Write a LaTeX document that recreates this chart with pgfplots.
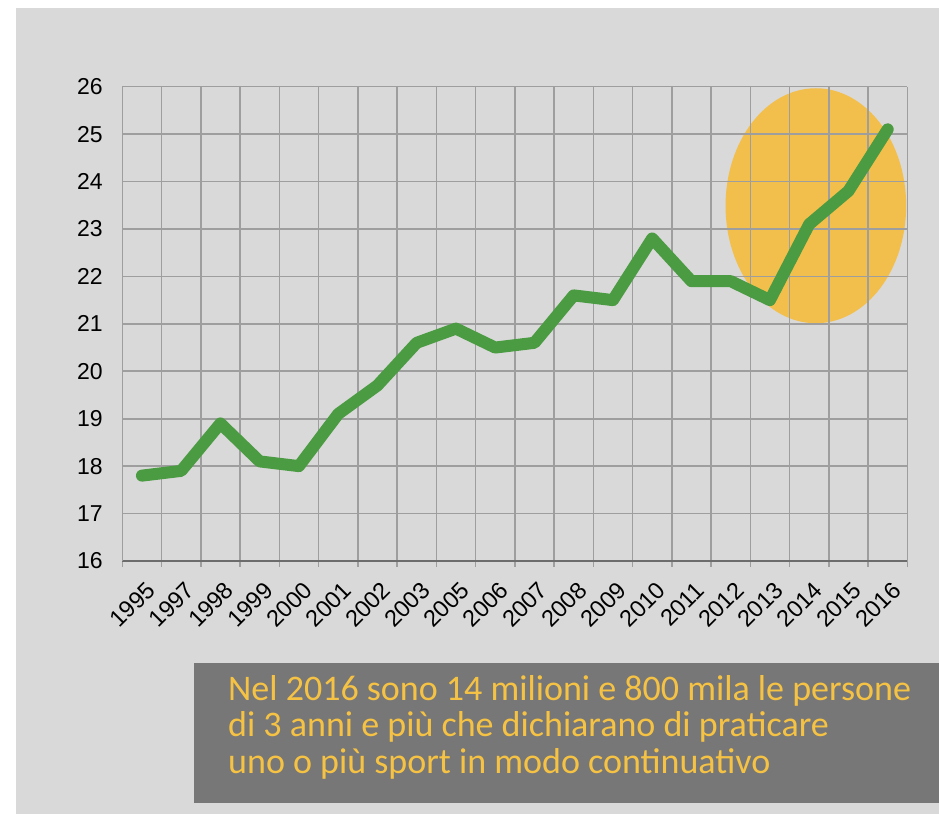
\documentclass[border=0pt]{standalone}
\usepackage{fontspec}
\setmainfont{Liberation Sans}
\newfontfamily\boxfont{Carlito}
\usepackage{pgfplots}
\pgfplotsset{compat=1.18}
\pgfplotsset{set layers}

\definecolor{bgcol}{HTML}{D9D9D9}
\definecolor{gridcol}{HTML}{9E9E9E}
\definecolor{linecol}{HTML}{4B9B42}
\definecolor{ovalcol}{HTML}{F3BF4C}
\definecolor{boxcol}{HTML}{777777}
\definecolor{txtcol}{HTML}{F5C244}

\pgfplotstableread{
x y
0 17.8
1 17.9
2 18.9
3 18.1
4 18.0
5 19.1
6 19.7
7 20.6
8 20.9
9 20.5
10 20.6
11 21.6
12 21.5
13 22.8
14 21.9
15 21.9
16 21.5
17 23.1
18 23.8
19 25.1
}\sporttable

\begin{document}
\begin{tikzpicture}
% page: white margin, grey panel, caption box (kept under the axis layers)
\begin{pgfonlayer}{axis background}
\fill[white] (0pt,0pt) rectangle (939pt,814pt);
\fill[bgcol] (16pt,0pt) rectangle (939pt,806pt);
\fill[boxcol] (194pt,11pt) rectangle (939pt,151.3pt);
\end{pgfonlayer}
\node[anchor=north west, inner sep=0pt, align=left, text=txtcol,
  font=\boxfont\fontsize{36}{36.5}\selectfont] at (228pt,139pt)
  {Nel 2016 sono 14 milioni e 800 mila le persone\\
   di 3 anni e più che dichiarano di praticare\\
   uno o più sport in modo continuativo};

\begin{axis}[
  at={(122.3pt,253pt)}, anchor=south west,
  scale only axis, width=785pt, height=474.3pt,
  xmin=-0.5, xmax=19.5, ymin=16, ymax=26,
  xtick={0,...,19},
  xticklabels={1995,1997,1998,1999,2000,2001,2002,2003,2005,2006,2007,2008,2009,2010,2011,2012,2013,2014,2015,2016},
  minor xtick={-0.5,0.5,...,19.5},
  ytick={16,...,26},
  major tick length=0pt,
  minor tick length=6pt,
  xminorgrids=true, ymajorgrids=true, xmajorgrids=false,
  grid style={gridcol, line width=1.6pt},
  minor tick style={gridcol, line width=1.6pt},
  axis x line*=bottom, axis y line*=left,
  x axis line style={-, draw=gray!85!black, line width=2pt},
  y axis line style={-, draw=gridcol, line width=1.6pt},
  tick align=outside,
  /pgf/number format/assume math mode=true,
  yticklabel style={font=\fontsize{23}{27}\selectfont, anchor=east, xshift=-16pt},
  xticklabel style={font=\fontsize{23.5}{26}\selectfont, xshift=3pt, yshift=-19pt, rotate=45, anchor=north east, inner sep=0pt},
]
\begin{pgfonlayer}{axis background}
\fill[ovalcol] (axis cs:17.17,23.49) ellipse [x radius=90.3pt, y radius=117.5pt];
\end{pgfonlayer}
\addplot[linecol, line width=12pt, line join=round, line cap=round] table[x=x,y=y] {\sporttable};
\end{axis}
\end{tikzpicture}
\end{document}
